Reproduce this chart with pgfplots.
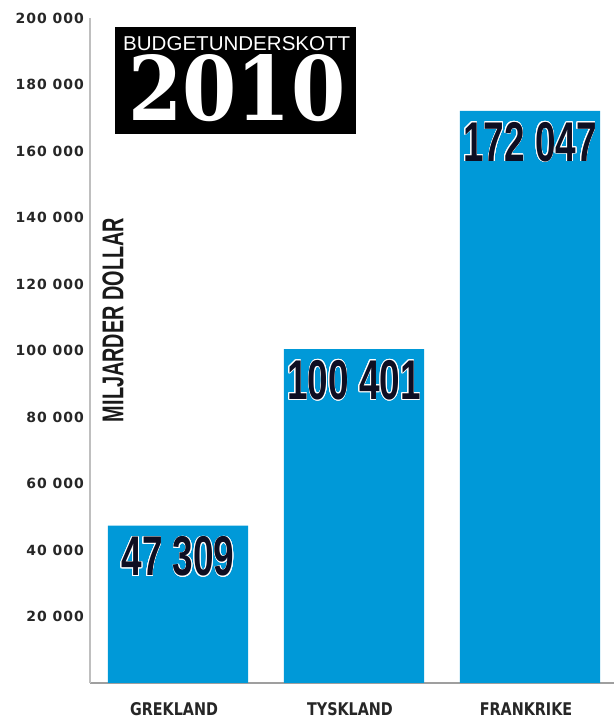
\documentclass[border=0pt]{standalone}
\usepackage{fontspec}
\setmainfont{Liberation Sans}
\usepackage{pgfplots}
\pgfplotsset{compat=1.18}
\usepackage{contour}
\contourlength{0.7pt}

\definecolor{barblue}{HTML}{0099D8}
\definecolor{numink}{HTML}{0E0E22}

\newfontface\tickfont[LetterSpace=7]{DejaVu Sans Bold}
\newfontface\catfont[FakeStretch=0.82]{DejaVu Sans Bold}
\newfontface\valfont[FakeStretch=0.66]{Liberation Sans Bold}
\newfontface\yearfont{DejaVu Serif Bold}

\begin{document}
\begin{tikzpicture}
\begin{axis}[
  at={(90pt,37pt)}, anchor=south west,
  scale only axis,
  width=524pt, height=665pt,
  xmin=-0.5, xmax=2.4773,
  ymin=0, ymax=200000,
  enlargelimits=false,
  axis x line=bottom, axis y line=left,
  x axis line style={-, draw=gray!75, line width=2.5pt},
  y axis line style={-, draw=gray!50, line width=2.5pt},
  major tick length=0pt,
  tick style={draw=none},
  scaled y ticks=false,
  xtick={0,1,2},
  xticklabels={GREKLAND,TYSKLAND,FRANKRIKE},
  xticklabel style={font=\catfont\fontsize{17.5}{17.5}\selectfont, text=black!85,
    anchor=base, inner sep=0pt, yshift=-32pt, xshift=-4pt},
  ytick={20000,40000,60000,80000,100000,120000,140000,160000,180000,200000},
  yticklabels={20 000,40 000,60 000,80 000,100 000,120 000,140 000,160 000,180 000,200 000},
  yticklabel style={font=\tickfont\fontsize{14}{14}\selectfont, text=black!85,
    anchor=east, inner sep=0pt, xshift=-6pt},
  clip=false,
]
\addplot[ybar, bar width=140pt, fill=barblue, draw=none,
  point meta=explicit symbolic,
  nodes near coords={\contour{white}{\pgfplotspointmeta}},
  nodes near coords style={anchor=north, yshift=-11pt, inner sep=0pt,
    font=\valfont\fontsize{56}{56}\selectfont, text=numink}]
  coordinates {(0,47309)[47 309] (1,100401)[100 401] (2,172047)[172 047]};
\end{axis}

% title box
\fill[black] (115pt,586pt) rectangle (356pt,693pt);
\node[anchor=base west, inner sep=0pt, text=white] at (123pt,669pt)
  {\resizebox{227pt}{14pt}{BUDGETUNDERSKOTT}};
\node[anchor=base west, inner sep=0pt, text=white] at (128pt,599pt)
  {\resizebox{217pt}{66pt}{\yearfont 2010}};

% unit label
\node[rotate=90, inner sep=0pt, text=black!90] at (113pt,400pt)
  {\resizebox{204pt}{21pt}{\bfseries MILJARDER DOLLAR}};

\pgfresetboundingbox
\useasboundingbox (0,0) rectangle (614pt,720pt);
\end{tikzpicture}
\end{document}
